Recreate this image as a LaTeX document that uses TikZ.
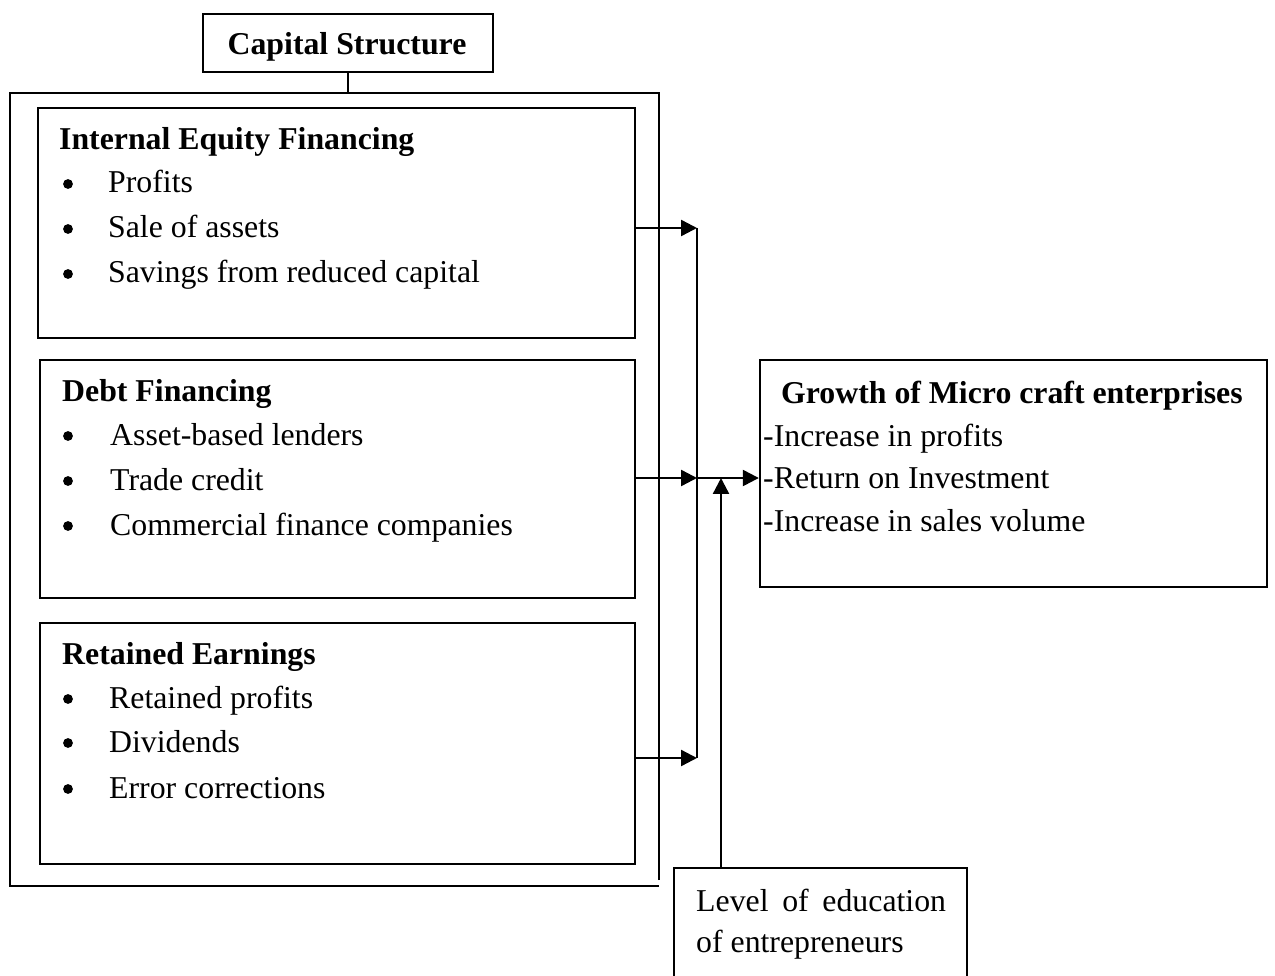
\documentclass[tikz,border=0pt]{standalone}
\usepackage{fontspec}
\setmainfont{Liberation Serif}
\usetikzlibrary{arrows.meta,fit}
\begin{document}
\begin{tikzpicture}[x=0.3774pt,y=-0.3774pt,
  line width=0.9pt,
  box/.style={draw,inner sep=0pt},
  txt/.style={anchor=base west,inner sep=0pt,font=\fontsize{12pt}{14pt}\selectfont},
  bul/.style={circle,fill,draw=none,inner sep=0pt,minimum size=3.7pt},
  arr/.style={-{Triangle[length=6pt,width=6pt]}}]
\useasboundingbox (0,0) rectangle (1275,976);
% Capital structure
\node[box,fit={(203,14) (493,72)}] (cs) {};
\node[txt,font=\fontsize{12pt}{14pt}\selectfont\bfseries,anchor=base] (cst) at (347,55) {Capital Structure};
\coordinate (ftop) at (347,93);
\draw (cs.south) -- (cs.south |- ftop);
% outer frame
\draw (659,880) -- (659,93) -- (10,93) -- (10,886) -- (659,886);
% box 1
\node[box,fit={(38,108) (635,338)}] (ief) {};
\node[txt,font=\fontsize{12pt}{14pt}\selectfont\bfseries] (t1) at (58,150) {Internal Equity Financing};
\node[bul] (b11) at (68,184) {};
\node[txt] (i11) at (107,193) {Profits};
\node[bul] (b12) at (68,229) {};
\node[txt] (i12) at (107,238) {Sale of assets};
\node[bul] (b13) at (68,274) {};
\node[txt] (i13) at (107,283) {Savings from reduced capital};
% box 2
\node[box,fit={(40,360) (635,598)}] (debt) {};
\node[txt,font=\fontsize{12pt}{14pt}\selectfont\bfseries] (t2) at (61,401) {Debt Financing};
\node[bul] (b21) at (68,436) {};
\node[txt] (i21) at (109,445) {Asset-based lenders};
\node[bul] (b22) at (68,481) {};
\node[txt] (i22) at (109,490) {Trade credit};
\node[bul] (b23) at (68,526) {};
\node[txt] (i23) at (109,535) {Commercial finance companies};
% box 3
\node[box,fit={(40,623) (635,864)}] (ret) {};
\node[txt,font=\fontsize{12pt}{14pt}\selectfont\bfseries] (t3) at (61,664) {Retained Earnings};
\node[bul] (b31) at (68,699) {};
\node[txt] (i31) at (108,708) {Retained profits};
\node[bul] (b32) at (68,743) {};
\node[txt] (i32) at (108,752) {Dividends};
\node[bul] (b33) at (68,789) {};
\node[txt] (i33) at (108,798) {Error corrections};
% growth box
\node[box,fit={(760,360) (1267,587)}] (growth) {};
\node[txt,font=\fontsize{12pt}{14pt}\selectfont\bfseries] (tg) at (780,403) {Growth of Micro craft enterprises};
\node[txt] (g1) at (762,446) {-Increase in profits};
\node[txt] (g2) at (762,488) {-Return on Investment};
\node[txt] (g3) at (762,531) {-Increase in sales volume};
% education box
\node[inner sep=0pt,fit={(675,869) (966,976)}] (edu) {};
\draw (edu.south west) -- (edu.north west) -- (edu.north east) -- (edu.south east);
\node[txt] (e1) at (695,911) {\makebox[94.3pt][s]{Level\hfil\ of\hfil\ education}};
\node[txt] (e2) at (695,952) {of entrepreneurs};
% connectors
\coordinate (c1) at (697,228);
\coordinate (c2) at (697,478);
\coordinate (c3) at (697,758);
\coordinate (ea) at (721,478);
\draw (c1) -- (c3);
\draw[arr] (c1 -| ief.east) -- (c1);
\draw[arr] (c2 -| debt.east) -- (c2);
\draw[arr] (c3 -| ret.east) -- (c3);
\draw[arr] (c2) -- (c2 -| growth.west);
\draw[arr] (edu.north west -| ea) -- (ea);
\end{tikzpicture}
\end{document}
